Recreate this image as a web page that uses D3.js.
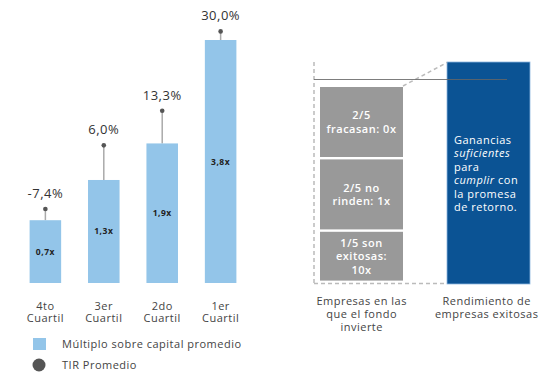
<!DOCTYPE html>
<html><head><meta charset="utf-8">
<script src="https://cdn.jsdelivr.net/npm/d3@7"></script>
<style>
body{margin:0;background:#fff;}
svg text{font-family:"Open Sans","Noto Sans",sans-serif;letter-spacing:0.5px;}
</style></head>
<body><svg id="c" width="558" height="378"></svg>
<script>
// ---- data ----
const quartiles = ["4to Cuartil","3er Cuartil","2do Cuartil","1er Cuartil"];
const multiples = [0.7, 1.3, 1.9, 3.8];
const multipleLabels = ["0,7x","1,3x","1,9x","3,8x"];
const tir = [-7.4, 6.0, 13.3, 30.0];
const tirLabels = ["-7,4%","6,0%","13,3%","30,0%"];
const legendItems = ["Múltiplo sobre capital promedio","TIR Promedio"];

const groupShares = [2, 2, 1]; // fifths of the portfolio
const groupLabels = [["2/5","fracasan: 0x"],["2/5 no","rinden: 1x"],["1/5 son","exitosas:","10x"]];
const rightCategories = [["Empresas en las","que el fondo","invierte"],["Rendimiento de","empresas exitosas"]];
const successText = [[["Ganancias",false]],[["suficientes",true]],[["para",false]],[["cumplir",true],[" con",false]],[["la promesa",false]],[["de retorno.",false]]];

const svg = d3.select("#c");
const barColor = "#93c5e9", dotColor = "#555";

// multi-line text helper: one <text>, one tspan per line
function multiline(sel, lines, x, y0, lh){
  lines.forEach((l, j) => {
    const ts = sel.append("tspan").attr("x", x).attr(j === 0 ? "y" : "dy", j === 0 ? y0 : lh);
    if (Array.isArray(l)) l.forEach(([s, it]) => ts.append("tspan").attr("font-style", it ? "italic" : "normal").text(s));
    else ts.text(l);
  });
}

// ---- left chart ----
const x = d3.scaleBand().domain(quartiles).range([15, 251]).paddingInner(0.46).paddingOuter(0.25);
const yBar = d3.scalePow().exponent(0.8).domain([0, 3.8]).range([283, 40]);
const yTir = d3.scaleLinear().domain([-23, 30]).range([283, 31.4]);

const g = svg.append("g");
quartiles.forEach((q, i) => {
  const cx = x(q) + x.bandwidth()/2;
  g.append("line").attr("x1", cx).attr("x2", cx).attr("y1", yBar(multiples[i])).attr("y2", yTir(tir[i]))
    .attr("stroke", "#aaa").attr("stroke-width", 1.5);
  g.append("rect").attr("x", x(q)).attr("y", yBar(multiples[i])).attr("width", x.bandwidth())
    .attr("height", yBar(0) - yBar(multiples[i])).attr("fill", barColor);
  g.append("circle").attr("cx", cx).attr("cy", yTir(tir[i])).attr("r", 2.3).attr("fill", dotColor);
  g.append("text").attr("x", cx).attr("y", yTir(tir[i]) - 11).attr("text-anchor", "middle")
    .attr("font-size", 13).attr("letter-spacing", "0.3px").attr("fill", "#333").text(tirLabels[i]);
  g.append("text").attr("x", cx).attr("y", (yBar(multiples[i]) + yBar(0))/2 + 3).attr("text-anchor", "middle")
    .attr("font-size", 8.5).attr("letter-spacing", "0px").attr("font-weight", "bold").attr("fill", "#222").text(multipleLabels[i]);
  const t = g.append("text").attr("text-anchor", "middle").attr("font-size", 11).attr("fill", "#444");
  multiline(t, q.split(" "), cx, 309.5, 12);
});

// legend
svg.append("rect").attr("x", 33).attr("y", 338).attr("width", 13).attr("height", 12).attr("fill", barColor);
svg.append("circle").attr("cx", 39).attr("cy", 365).attr("r", 6.5).attr("fill", dotColor);
legendItems.forEach((t, i) => {
  svg.append("text").attr("x", 62).attr("y", 348 + i*21).attr("font-size", 11).attr("fill", "#444").text(t);
});

// ---- right chart ----
const boxLeft = 320, boxRight = 403;
const stackTop = 87, stackBottom = 283;
const stackScale = d3.scaleLinear().domain([0, d3.sum(groupShares.map(Math.sqrt))]).range([stackTop, stackBottom]);
let acc = 0;
groupShares.forEach((s, i) => {
  const y0 = stackScale(acc), y1 = stackScale(acc + Math.sqrt(s));
  acc += Math.sqrt(s);
  svg.append("rect").attr("x", boxLeft).attr("y", y0).attr("width", boxRight - boxLeft)
    .attr("height", y1 - y0 - 2.4).attr("fill", "#999");
  const lines = groupLabels[i];
  const mid = (y0 + y1 - 2.4)/2;
  const t = svg.append("text").attr("text-anchor", "middle").attr("font-size", 11)
    .attr("font-weight", 600).attr("fill", "#fff");
  multiline(t, lines, (boxLeft+boxRight)/2, mid - (lines.length-1)/2*13.5 + 4, 13.5);
});

// blue box
const bx0 = 447, bx1 = 530;
svg.append("rect").attr("x", bx0).attr("y", 62).attr("width", bx1 - bx0).attr("height", 222)
  .attr("fill", "#0b5394").attr("stroke", "#8db6df").attr("stroke-width", 0.8);
const st = svg.append("text").attr("font-size", 11).attr("fill", "#fff");
multiline(st, successText, 454, 144, 13.4);

// dashed frame
const dash = {stroke: "#bbb", "stroke-width": 1.5, "stroke-dasharray": "4,3", fill: "none"};
function dl(x1, y1, x2, y2){
  const l = svg.append("line").attr("x1", x1).attr("y1", y1).attr("x2", x2).attr("y2", y2);
  Object.entries(dash).forEach(([k, v]) => l.attr(k, v));
}
dl(314, 62, 314, 283.5);
dl(314, 283.5, 447, 283.5);
dl(403, 86, 447, 62.5);

// reference line
svg.append("line").attr("x1", 314).attr("x2", 507).attr("y1", 79.5).attr("y2", 79.5)
  .attr("stroke", "#666").attr("stroke-opacity", 0.85).attr("stroke-width", 1.2);

// bottom labels
const rcx = [361.7, 486.7];
rightCategories.forEach((lines, i) => {
  const t = svg.append("text").attr("text-anchor", "middle").attr("font-size", 11).attr("fill", "#444");
  multiline(t, lines, rcx[i], 304.5, 13);
});
</script></body></html>
